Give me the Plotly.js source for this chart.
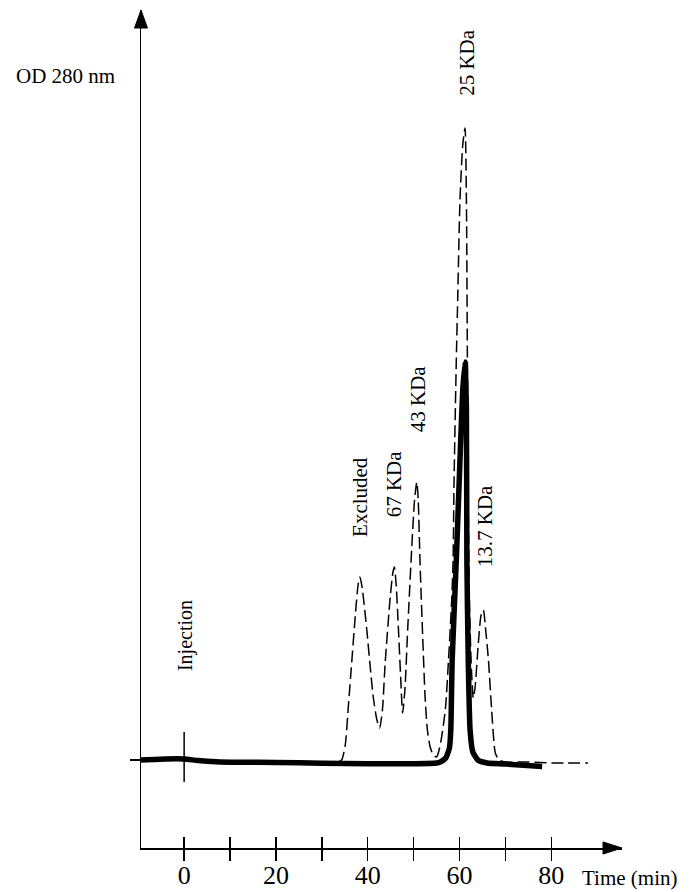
<!DOCTYPE html>
<html>
<head>
<meta charset="utf-8">
<script src="https://cdn.plot.ly/plotly-3.0.1.min.js"></script>
<style>html,body{margin:0;padding:0;background:#fff;}#chart{width:693px;height:892px;}</style>
</head>
<body>
<div id="chart"></div>
<script>
// Data (time in min, OD 280 nm in arbitrary units)
var standardsTime = [30, 33, 34.3, 35.1, 35.8, 36.5, 37.3, 37.9, 38.3, 38.8, 39.8, 40.5, 41.2, 42.0, 42.6, 43.2, 43.8, 44.9, 45.5, 45.8, 46.2, 46.7, 47.2, 47.6, 48.1, 48.7, 49.6, 50.2, 50.7, 51.0, 51.4, 52.0, 52.5, 53.0, 53.6, 54.3, 55.0, 55.8, 56.9, 57.6, 58.3, 58.6, 58.8, 59.3, 59.6, 60.1, 60.7, 61.2, 61.5, 61.7, 61.9, 62.2, 62.6, 63.0, 63.4, 64.1, 64.7, 65.2, 65.7, 66.3, 67.0, 67.8, 68.6, 70, 75, 80, 88];
var standardsOD   = [-0.03, -0.03, 0.0, 0.15, 0.55, 0.97, 1.45, 1.75, 1.83, 1.72, 1.3, 0.95, 0.63, 0.4, 0.32, 0.5, 0.97, 1.63, 1.88, 1.93, 1.75, 1.3, 0.8, 0.47, 0.7, 1.3, 2.13, 2.6, 2.78, 2.6, 1.97, 1.2, 0.63, 0.3, 0.13, 0.05, 0.03, 0.15, 0.5, 1.0, 1.6, 2.0, 2.77, 4.0, 4.6, 5.6, 6.15, 6.32, 5.6, 4.1, 2.5, 1.5, 0.9, 0.62, 0.73, 1.17, 1.45, 1.5, 1.3, 1.0, 0.5, 0.07, 0.0, -0.02, -0.02, -0.03, -0.03];

var sampleTime = [-9.4, -4, 0, 3, 7, 12, 20, 30, 40, 50, 55, 55.8, 57.0, 57.8, 58.1, 58.4, 59.3, 60.1, 60.7, 61.2, 61.5, 61.6, 61.9, 62.3, 62.9, 64.0, 66, 70, 78];
var sampleOD   = [0.0, 0.01, 0.01, -0.005, -0.017, -0.022, -0.025, -0.032, -0.037, -0.037, -0.03, -0.02, 0.02, 0.12, 0.3, 1.0, 2.0, 3.0, 3.7, 3.98, 3.5, 2.0, 1.0, 0.3, 0.08, 0.0, -0.03, -0.04, -0.065];

var tickValues = [0, 10, 20, 30, 40, 50, 60, 70, 80];
var tickLabels = ['0', '', '20', '', '40', '', '60', '', '80'];

var peakLabels = ['Injection', 'Excluded', '67 KDa', '43 KDa', '25 KDa', '13.7 KDa'];
var labelTime  = [0.2, 38.3, 45.8, 51.0, 61.6, 65.6];
var labelOD    = [1.24, 2.63, 2.76, 3.61, 6.98, 2.34];
var labelSize  = [20, 21, 21, 21, 21, 21];

var injectionTime = 0;

var serif = 'Liberation Serif, Times New Roman, serif';

var traces = [
  {x: standardsTime, y: standardsOD, type: 'scatter', mode: 'lines',
   line: {color: '#000', width: 1.5, dash: '12px,5px', shape: 'spline', smoothing: 0.6},
   hoverinfo: 'skip', showlegend: false},
  {x: sampleTime, y: sampleOD, type: 'scatter', mode: 'lines',
   line: {color: '#000', width: 5.5, shape: 'spline', smoothing: 0.5},
   hoverinfo: 'skip', showlegend: false},
  {x: [null], y: [null], xaxis: 'x2', type: 'scatter', mode: 'lines', hoverinfo: 'skip', showlegend: false}
];

var annotations = peakLabels.map(function (t, i) {
  return {x: labelTime[i], y: labelOD[i], xref: 'x', yref: 'y', text: t, showarrow: false,
          textangle: -90, xanchor: 'center', yanchor: 'middle',
          font: {family: serif, size: labelSize[i], color: '#000'}};
});
annotations.push({x: -0.156, y: 0.921, xref: 'paper', yref: 'paper', text: 'OD 280 nm', showarrow: false,
  xanchor: 'center', yanchor: 'middle', font: {family: serif, size: 21, color: '#000'}});
annotations.push({x: 1.0146, y: -0.036, xref: 'paper', yref: 'paper', text: 'Time (min)', showarrow: false,
  xanchor: 'center', yanchor: 'middle', font: {family: serif, size: 21, color: '#000'}});

var layout = {
  width: 693, height: 892,
  margin: {l: 141, r: 71, t: 10, b: 44},
  paper_bgcolor: '#fff', plot_bgcolor: '#fff',
  showlegend: false,
  xaxis: {range: [-9.4, 95.4], showline: true, linecolor: '#000', linewidth: 1.5,
          tickvals: tickValues, ticks: 'outside', ticklen: 11, tickwidth: 1.5, tickcolor: '#000',
          showticklabels: false, showgrid: false, zeroline: false},
  xaxis2: {range: [-9.4, 95.4], overlaying: 'x', anchor: 'y', side: 'bottom', showline: false,
           tickvals: tickValues, ticktext: tickLabels, ticks: 'inside', ticklen: 11, tickwidth: 1.5, tickcolor: '#000',
           ticklabelstandoff: 9,
           showticklabels: true, showgrid: false, zeroline: false,
           tickfont: {family: serif, size: 26, color: '#000'}},
  yaxis: {range: [-0.88, 7.5], showline: true, linecolor: '#000', linewidth: 1.5,
          tickvals: [0], ticks: 'outside', ticklen: 10, tickwidth: 1.5, tickcolor: '#000',
          showticklabels: false, showgrid: false, zeroline: false},
  shapes: [
    {type: 'line', xref: 'x', yref: 'y', x0: injectionTime, x1: injectionTime, y0: 0.28, y1: -0.22,
     line: {color: '#000', width: 1.5}},
    {type: 'path', xref: 'paper', yref: 'paper', path: 'M 0 1 L -0.0135 0.9785 L 0.0135 0.9785 Z',
     fillcolor: '#000', line: {color: '#000', width: 1}, layer: 'above'},
    {type: 'path', xref: 'paper', yref: 'paper', path: 'M 1 0 L 0.9605 0.0072 L 0.9605 -0.0072 Z',
     fillcolor: '#000', line: {color: '#000', width: 1}, layer: 'above'}
  ],
  annotations: annotations
};

Plotly.newPlot('chart', traces, layout, {displayModeBar: false, staticPlot: true});
</script>
</body>
</html>
